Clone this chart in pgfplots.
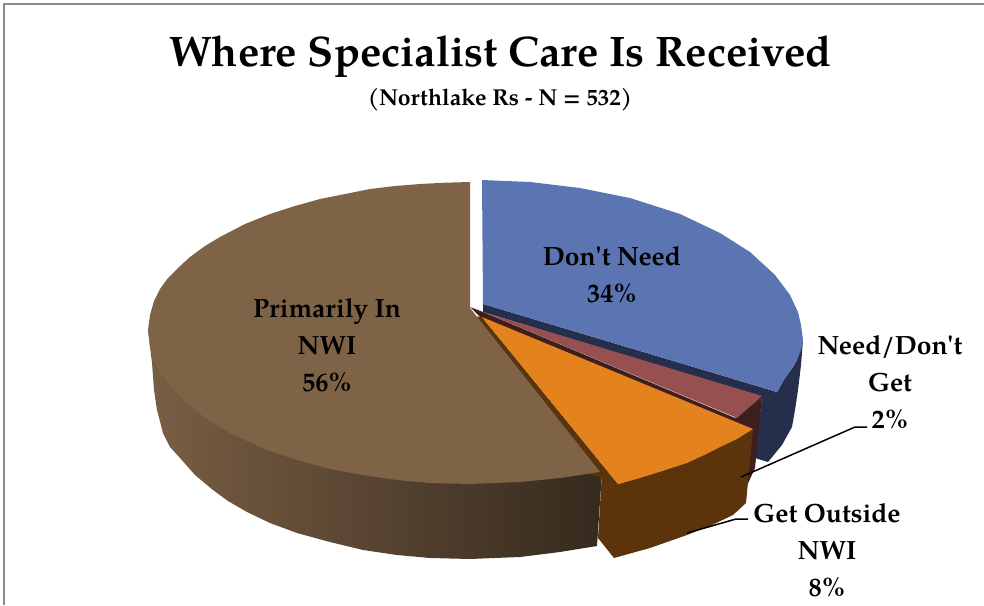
\documentclass[border=0pt]{standalone}
\usepackage{pgfplots}
\pgfplotsset{compat=1.18}
\usepackage{fontspec}
\setmainfont{TeX Gyre Pagella}[Ligatures=TeXOff]
\definecolor{bluetop}{HTML}{5B75B2}
\definecolor{blueside}{HTML}{252E4B}
\definecolor{redtop}{HTML}{975050}
\definecolor{redside}{HTML}{3F1E1E}
\definecolor{orangetop}{HTML}{E4821E}
\definecolor{orangeside}{HTML}{5B340C}
\definecolor{browntop}{HTML}{7F6347}
\definecolor{frameline}{HTML}{8C8C8C}
\tikzset{lbl/.style={font=\fontsize{26.4}{37}\selectfont\bfseries, align=center, text=black, inner sep=0pt}}
\begin{document}
\begin{tikzpicture}
\begin{axis}[
  at={(0,0)}, anchor=south west,
  scale only axis, width=984pt, height=605pt,
  xmin=0, xmax=984, ymin=0, ymax=605, y dir=reverse,
  axis lines=none, clip=true,
  every axis plot/.append style={forget plot},
]
% frame
\addplot[frameline, line width=1.5pt] coordinates {(4,605) (4,4) (984,4)};
% blue side
\addplot[fill=blueside, draw=none] coordinates {(803,340)(801,365)(798,390)(795,410)(792,427)(782,445)(768,462)(755,458)(762,396)(777,392)(785,378)(793,367)(797,360)(803,340)};
% blue inner sliver
\addplot[fill=blueside, draw=none] coordinates {(483,304)(777,392)(762,397)(483,312)(483,304)};
% blue top
\addplot[fill=bluetop, draw=none] coordinates {(482,180)(530,182)(580,188)(630,198)(680,214)(720,233)(750,252)(775,275)(790,295)(798,312)(801,325)(803,340)(801,350)(797,360)(793,367)(785,378)(777,392)(483,304)(482,180)};
% red side
\addplot[fill=redside, draw=none] coordinates {(762,396)(755,468)(745,490)(735,418)(762,396)};
% maroon sliver
\addplot[fill=redside, draw=none] coordinates {(470,307)(483,312)(740,420)(753,429)(735,425)(482,319)(470,307)};
% red top
\addplot[fill=redtop, draw=none] coordinates {(483,312)(762,396)(737,418)(483,312)};
% brown side
\addplot[draw=none, left color=browntop!95!black, middle color=browntop!72!black, right color=browntop!42!black] coordinates {(148,330)(152,363)(154,390)(157,410)(163,433)(170,447)(180,458)(195,475)(213,490)(228,501)(247,512)(270,523)(297,533)(330,542)(363,550)(397,555)(430,558)(470,559)(520,557)(560,552)(597,546)(602,472)(560,440)(148,330)};
% orange side
\addplot[fill=orangeside, draw=none] coordinates {(753,429)(746,503)(733,515)(712,525)(687,535)(650,548)(614,558)(598,538)(602,472)(618,484)(665,470)(704,455)(753,429)};
% dark sliver beside orange
\addplot[fill=orangeside, draw=none] coordinates {(470,316)(482,317)(618,484)(590,474)(470,316)};
% orange top
\addplot[fill=orangetop, draw=none] coordinates {(482,317)(753,429)(737,439)(720,447)(704,455)(687,463)(665,470)(640,478)(618,484)(482,317)};
% brown top
\addplot[fill=browntop, draw=none] coordinates {(470,182)(445,182.7)(420,184)(395,186)(370,189)(345,194)(320,199)(295,206)(270,214)(245,224)(220,237)(205,246)(190,257)(178,268)(168,278)(160,289)(154,301)(150,315)(148,330)(150,347)(152,354)(155,362)(160,372)(170,386)(180,397)(195,410)(213,423)(230,433)(247,441)(270,451)(297,460)(330,469)(363,475)(397,480)(430,483)(470,484)(520,482)(560,478)(600,472)(470,308)(470,182)};
% leaders
\addplot[black, line width=1.5pt] coordinates {(741,477)(855,427)(867,427)};
\addplot[black, line width=1.5pt] coordinates {(687,533)(736,519)(748,519)};
% text
\node[font=\fontsize{42.7}{50}\selectfont\bfseries, inner sep=0pt] at (axis cs:500.5,56.5) {Where Specialist Care Is Received};
\node[font=\fontsize{23}{28}\selectfont\bfseries, inner sep=0pt] at (axis cs:500,100) {(Northlake Rs - N = 532)};
\node[lbl] at (axis cs:612,275) {Don't Need\\34\%};
\node[lbl] at (axis cs:327,345) {Primarily In\\NWI\\56\%};
\node[lbl] at (axis cs:890,382) {Need/Don't\\Get\\2\%};
\node[lbl] at (axis cs:827,550) {Get Outside\\NWI\\8\%};
\end{axis}
\pgfresetboundingbox
\path[use as bounding box] (0,0) rectangle (984pt,605pt);
\end{tikzpicture}
\end{document}
